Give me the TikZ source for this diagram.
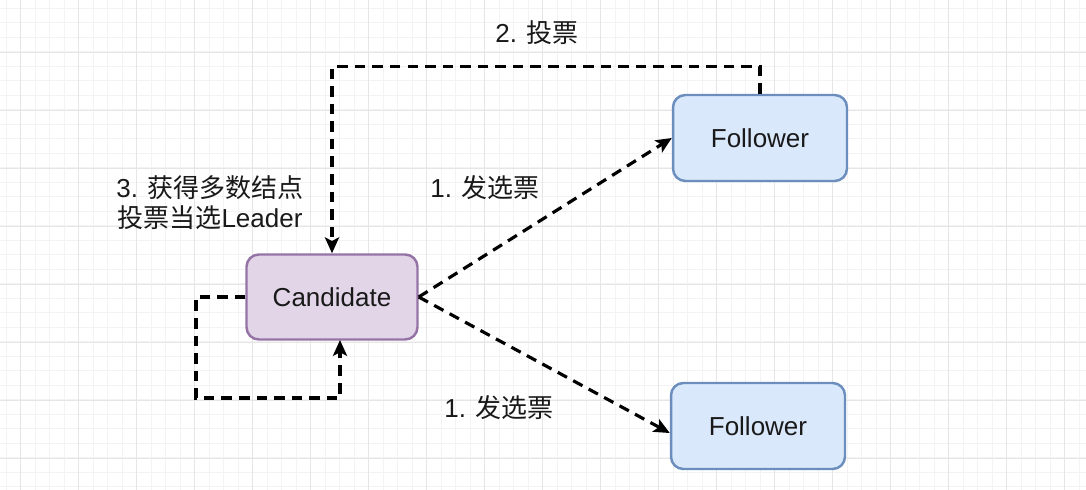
\documentclass[tikz,border=0pt]{standalone}
\usepackage{fontspec}
\setmainfont{Liberation Sans}
\newfontfamily\cjk{Noto Sans CJK SC}
\usetikzlibrary{arrows.meta}

\definecolor{candfill}{HTML}{E1D5E7}
\definecolor{canddraw}{HTML}{9673A6}
\definecolor{folfill}{HTML}{DAE8FC}
\definecolor{foldraw}{HTML}{6C8EBF}
\definecolor{minorgrid}{HTML}{F3F3F3}
\definecolor{majorgrid}{HTML}{E6E6E6}

\begin{document}
\begin{tikzpicture}[x=0.02cm, y=-0.02cm,
  every node/.style={font=\fontsize{14.8pt}{17pt}\selectfont, text=black!90},
  candbox/.style={draw=canddraw, fill=candfill, line width=1.4pt, rounded corners=7pt,
    minimum width=3.42cm, minimum height=1.7cm, inner sep=0pt},
  folbox/.style={draw=foldraw, fill=folfill, line width=1.4pt, rounded corners=7pt,
    minimum width=3.48cm, minimum height=1.72cm, inner sep=0pt},
  vote/.style={dash pattern=on 6pt off 4pt, line width=1.8pt,
    -{Stealth[length=9pt, width=8pt, inset=2pt]}}]
\useasboundingbox (0,0) rectangle (1086,490);
% grid
\foreach \k in {0,...,74}
  \draw[minorgrid, line width=0.5pt] (6.2+14.5*\k,0) -- (6.2+14.5*\k,490);
\foreach \k in {0,...,33}
  \draw[minorgrid, line width=0.5pt] (0,8.3+14.5*\k) -- (1086,8.3+14.5*\k);
\foreach \k in {0,...,18}
  \draw[majorgrid, line width=0.6pt] (20.7+58*\k,0) -- (20.7+58*\k,490);
\foreach \k in {0,...,8}
  \draw[majorgrid, line width=0.6pt] (0,52.3+58*\k) -- (1086,52.3+58*\k);

% nodes
\node[candbox] (cand) at (332,297) {Candidate};
\node[folbox] (fol1) at (760,138) {Follower};
\node[folbox] (fol2) at (758,426) {Follower};
\coordinate (cs) at (340,340);

% labels
\node (vote2) at (537,33) {2. {\cjk 投票}};
\node (send1) at (485,188) {1. {\cjk 发选票}};
\node (send2) at (499,408) {1. {\cjk 发选票}};
\node[align=center] (win) at (210,203) {3. {\cjk 获得多数结点}\\{\cjk 投票当选}Leader};

% edges
\draw[vote] (cand.east) -- (fol1.west);
\draw[vote] (cand.east) -- ([yshift=-4pt]fol2.west);
\draw[vote] (fol1.north) -- ++(0,-27) -| (cand.north);
\draw[vote] (cand.west) -| (196,398) -| (cs);
\end{tikzpicture}
\end{document}
